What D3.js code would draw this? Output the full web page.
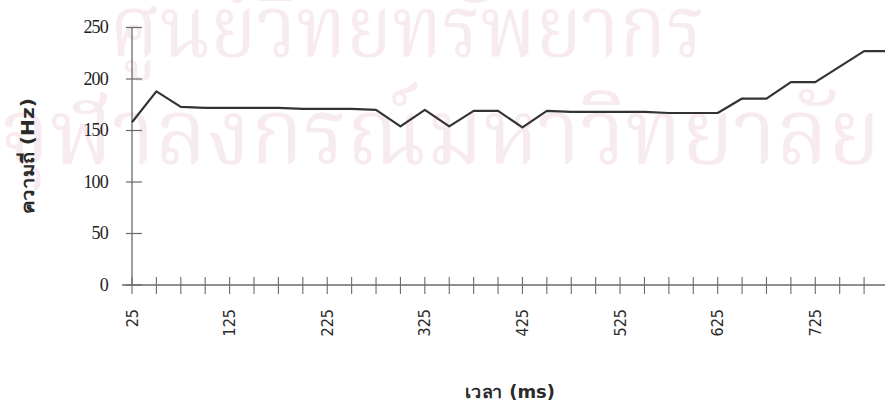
<!DOCTYPE html>
<html>
<head>
<meta charset="utf-8">
<script src="https://cdn.jsdelivr.net/npm/d3@7"></script>
<style>
  body { margin: 0; background: #fff; }
  svg { display: block; }
</style>
</head>
<body>
<div id="chart"></div>
<script>
// time points (ms) and pitch (Hz)
var times = [25, 50, 75, 100, 125, 150, 175, 200, 225, 250, 275, 300, 325, 350, 375, 400,
             425, 450, 475, 500, 525, 550, 575, 600, 625, 650, 675, 700, 725, 750, 775, 800];
var freqs = [158, 188, 173, 172, 172, 172, 172, 171, 171, 171, 170, 154, 170, 154, 169, 169,
             153, 169, 168, 168, 168, 168, 167, 167, 167, 181, 181, 197, 197, 212, 227, 227];
var xTickLabels = [25, 125, 225, 325, 425, 525, 625, 725];
var yTicks = [0, 50, 100, 150, 200, 250];

var width = 885, height = 403;

var svg = d3.select("#chart").append("svg")
    .attr("width", width)
    .attr("height", height);

// faint watermark behind the chart
var wm = svg.append("g")
    .attr("fill", "#f8eaf1")
    .attr("font-family", "'Noto Serif Thai', 'Norasi', 'Garuda', 'Loma', 'Noto Sans Thai', sans-serif")
    .attr("text-anchor", "middle");
wm.append("text")
    .attr("x", 407).attr("y", 56)
    .attr("font-size", 86)
    .attr("textLength", 595)
    .attr("lengthAdjust", "spacingAndGlyphs")
    .text("ศูนย์วิทยทรัพยากร");
wm.append("text")
    .attr("x", 440).attr("y", 163)
    .attr("font-size", 92)
    .attr("textLength", 880)
    .attr("lengthAdjust", "spacingAndGlyphs")
    .text("จุฬาลงกรณ์มหาวิทยาลัย");

var x = d3.scaleLinear().domain([25, 800]).range([132, 888.5]);
var y = d3.scaleLinear().domain([0, 250]).range([285, 27.5]);

var axisColor = "#6a6a6a";

// y axis line and crossing ticks
svg.append("line")
    .attr("x1", x(25)).attr("x2", x(25))
    .attr("y1", y(250)).attr("y2", y(0))
    .attr("stroke", axisColor).attr("stroke-width", 1.3);

var yt = svg.append("g").selectAll("g")
    .data(yTicks)
    .join("g")
    .attr("transform", d => `translate(0,${y(d)})`);
yt.append("line")
    .attr("x1", x(25) - 6).attr("x2", x(25) + 10)
    .attr("stroke", axisColor).attr("stroke-width", 1.2);
yt.append("text")
    .attr("x", 108)
    .attr("dy", "0.33em")
    .attr("text-anchor", "end")
    .attr("font-family", "'Liberation Serif', 'Times New Roman', serif")
    .attr("font-size", 18)
    .attr("letter-spacing", -0.8)
    .attr("fill", "#222")
    .text(d => d);

// x axis line with a crossing tick every 25 ms
svg.append("line")
    .attr("x1", 122).attr("x2", width)
    .attr("y1", y(0)).attr("y2", y(0))
    .attr("stroke", axisColor).attr("stroke-width", 1.3);

svg.append("g").selectAll("line")
    .data(times)
    .join("line")
    .attr("x1", d => x(d)).attr("x2", d => x(d))
    .attr("y1", y(0) - 8).attr("y2", y(0) + 9)
    .attr("stroke", axisColor).attr("stroke-width", 1.1);

svg.append("g").selectAll("text")
    .data(xTickLabels)
    .join("text")
    .attr("transform", d => `translate(${x(d)},309) rotate(-90)`)
    .attr("text-anchor", "end")
    .attr("dy", "0.35em")
    .attr("font-family", "'DejaVu Sans Condensed', 'DejaVu Sans', sans-serif")
    .attr("font-size", 16)
    .attr("fill", "#2a2a2a")
    .text(d => d);

// the pitch contour
var line = d3.line()
    .x((d, i) => x(times[i]))
    .y(d => y(d));

svg.append("path")
    .datum(freqs)
    .attr("fill", "none")
    .attr("stroke", "#333")
    .attr("stroke-width", 2.2)
    .attr("stroke-linejoin", "round")
    .attr("d", line);

// axis titles
svg.append("text")
    .attr("x", 510).attr("y", 398)
    .attr("text-anchor", "middle")
    .attr("font-family", "'DejaVu Sans', sans-serif")
    .attr("font-weight", "bold")
    .attr("font-size", 17)
    .attr("textLength", 90)
    .attr("lengthAdjust", "spacingAndGlyphs")
    .attr("fill", "#2a2a2a")
    .text("เวลา (ms)");

svg.append("text")
    .attr("transform", "translate(34,156) rotate(-90)")
    .attr("text-anchor", "middle")
    .attr("font-family", "'DejaVu Sans', sans-serif")
    .attr("font-weight", "bold")
    .attr("font-size", 17)
    .attr("textLength", 116)
    .attr("lengthAdjust", "spacingAndGlyphs")
    .attr("fill", "#2a2a2a")
    .text("ความถี่ (Hz)");
</script>
</body>
</html>
